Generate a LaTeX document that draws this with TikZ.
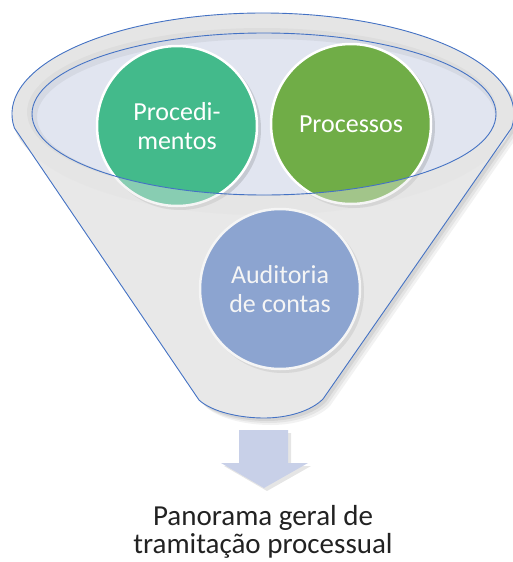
\documentclass[tikz,border=0pt]{standalone}
\usepackage{fontspec}
\setmainfont{Carlito}
\definecolor{bline}{HTML}{4472C4}
\definecolor{bodygray}{HTML}{E8E8E8}
\definecolor{rimgray}{HTML}{E4E4E4}
\definecolor{innerfill}{HTML}{E1E5F0}
\definecolor{cgreenA}{HTML}{43BA8B}
\definecolor{cgreenB}{HTML}{70AD47}
\definecolor{cblue}{HTML}{4A74C0}
\definecolor{arrowfill}{HTML}{C8D0E8}
\definecolor{txtdark}{HTML}{222222}
\begin{document}
\begin{tikzpicture}[x=1pt,y=-1pt,
  disc/.style={circle, minimum size=160pt, inner sep=0pt, draw=white, line width=2.5pt,
    text=white, align=center, font=\fontsize{26}{29}\selectfont},
  discshadow/.style={fill=black, opacity=0.12},
  outline/.style={draw=bline, line width=0.9pt}]
\useasboundingbox (0,0) rectangle (512,562);

% funnel shape path (reused)
\def\funnelpath{(14.4,128) arc[start angle=187.97, end angle=-7.97, x radius=251pt, y radius=101pt]
  -- (323,399) .. controls (311,411) and (288,418) .. (264,418)
  .. controls (240,418) and (212,412) .. (199,400) -- cycle}

% soft shadow of funnel
\foreach \d/\o in {7/0.05, 5/0.06, 3/0.07}{
  \fill[black, opacity=\o, shift={(\d pt,-\d pt)}] \funnelpath;
}
% funnel body
\fill[bodygray] \funnelpath;
% rim
\fill[rimgray] (263,114) ellipse[x radius=251pt, y radius=101pt];
% inner shadow around inner ellipse
\fill[black, opacity=0.06] (262,112) ellipse[x radius=235pt, y radius=84pt];
\fill[innerfill] (264,114) ellipse[x radius=232pt, y radius=81pt];
\begin{scope}
  \clip (264,114) ellipse[x radius=232pt, y radius=81pt];
  \draw[black, opacity=0.05, line width=6pt] (266,117) ellipse[x radius=232pt, y radius=81pt];
\end{scope}

% circle shadows
\fill[discshadow] (180,129) circle[radius=81pt];
\fill[discshadow] (354,127) circle[radius=81pt];
\fill[discshadow] (283,292) circle[radius=81pt];

% circles
\node[disc, fill=cgreenA] (proc) at (177,126) {Procedi-\\mentos};
\node[disc, fill=cgreenB] (pros) at (351,124) {Processos};
\node[disc, fill=cblue] (audi) at (280,289) {Auditoria\\de contas};

% translucent front of funnel (outside inner ellipse)
\fill[bodygray, opacity=0.42, even odd rule] \funnelpath (264,114) ellipse[x radius=232pt, y radius=81pt];

% outlines
\draw[outline] \funnelpath;
\draw[outline] (264,114) ellipse[x radius=232pt, y radius=81pt];

% arrow
\fill[black, opacity=0.10] (242,433) -- (291,433) -- (291,466) -- (311,466) -- (267,491) -- (224,466) -- (242,466) -- cycle;
\fill[arrowfill] (239,430) -- (288,430) -- (288,463) -- (308,463) -- (264,488) -- (221,463) -- (239,463) -- cycle;

% result text
\node[align=center, text=txtdark, font=\fontsize{29}{28}\selectfont, inner sep=0pt] (res) at (263,532)
  {Panorama geral de\\tramitação processual};
\end{tikzpicture}
\end{document}
